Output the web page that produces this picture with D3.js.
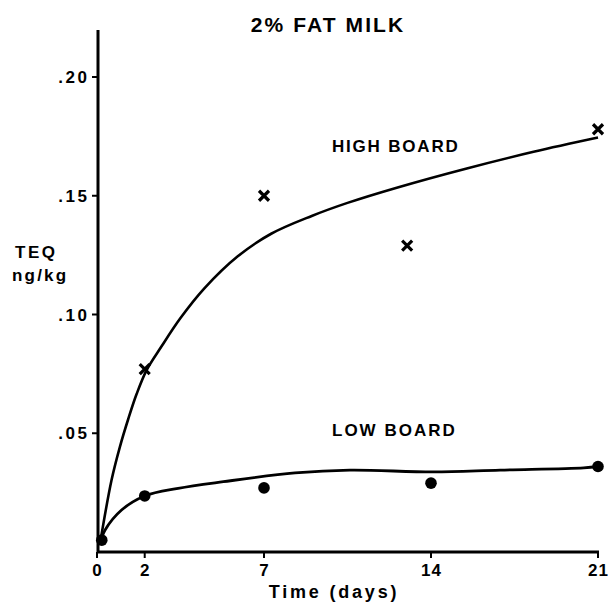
<!DOCTYPE html>
<html><head><meta charset="utf-8">
<script src="https://cdn.jsdelivr.net/npm/d3@7"></script>
<style>body{margin:0;background:#fff}svg{display:block}text{font-family:"Liberation Sans",Arial,Helvetica,sans-serif;font-weight:bold;fill:#000}</style>
</head><body><svg id="c" width="608" height="602"></svg>
<script>
const xTicks = [0, 2, 7, 14, 21];
const yTicks = [0.05, 0.10, 0.15, 0.20];
const yTickLabels = [".05", ".10", ".15", ".20"];
// measured points
const highDays = [2, 7, 13, 21];
const highVals = [0.077, 0.150, 0.129, 0.178];
const lowDays = [0.2, 2, 7, 14, 21];
const lowVals = [0.005, 0.0236, 0.027, 0.029, 0.036];
// fitted curves
const highCurveDays = [0.13, 0.61, 0.96, 1.31, 1.66, 2.08, 2.7, 3.5, 4.5, 5.9, 7.3, 9.0, 10.5, 12.6, 15.5, 18.3, 21];
const highCurveVals = [0.0038, 0.0303, 0.0443, 0.0560, 0.0665, 0.0766, 0.0865, 0.0985, 0.1110, 0.1245, 0.1340, 0.1415, 0.147, 0.1535, 0.1615, 0.1685, 0.1745];
const lowCurveDays = [0.13, 0.34, 1.03, 2.0, 3.4, 5.3, 8.3, 10.6, 14.1, 16.9, 20.4, 21];
const lowCurveVals = [0.004, 0.0093, 0.0177, 0.0236, 0.0268, 0.0296, 0.0333, 0.0345, 0.0337, 0.0345, 0.0354, 0.036];

const svg = d3.select("#c");
const x = d3.scaleLinear().domain([0, 21]).range([97, 598]);
const y = d3.scaleLinear().domain([0, 0.2]).range([552, 77]);

// title
svg.append("text").attr("x", 328).attr("y", 32).attr("text-anchor", "middle")
  .attr("font-size", 21).attr("letter-spacing", 2.1).text("2% FAT MILK");

// y axis
svg.append("line").attr("x1", 98).attr("x2", 98).attr("y1", y(0.2198)).attr("y2", y(0))
  .attr("stroke", "#000").attr("stroke-width", 3);
const yg = svg.append("g");
yTicks.forEach((t, i) => {
  yg.append("line").attr("x1", 92).attr("x2", 98).attr("y1", y(t)).attr("y2", y(t)).attr("stroke", "#000").attr("stroke-width", 2);
  yg.append("text").attr("x", 89.5).attr("y", y(t) + 6).attr("text-anchor", "end").attr("font-size", 17).attr("letter-spacing", 2.5).text(yTickLabels[i]);
});
// x axis
svg.append("line").attr("x1", 97).attr("x2", 599).attr("y1", y(0)).attr("y2", y(0))
  .attr("stroke", "#000").attr("stroke-width", 3);
xTicks.forEach(t => {
  svg.append("line").attr("x1", x(t)).attr("x2", x(t)).attr("y1", y(0)).attr("y2", y(0) + 6).attr("stroke", "#000").attr("stroke-width", 2);
  svg.append("text").attr("x", x(t) + 0.5).attr("y", 576).attr("text-anchor", "middle").attr("font-size", 17).attr("letter-spacing", 1).text(t);
});
svg.append("text").attr("x", 334).attr("y", 598).attr("text-anchor", "middle").attr("font-size", 18).attr("letter-spacing", 2.8).text("Time (days)");
svg.append("text").attr("x", 15).attr("y", 258).attr("font-size", 17).attr("letter-spacing", 2.5).text("TEQ");
svg.append("text").attr("x", 12).attr("y", 281).attr("font-size", 17).attr("letter-spacing", 2.2).text("ng/kg");

// curves
const line = d3.line().x(d => x(d[0])).y(d => y(d[1])).curve(d3.curveCatmullRom.alpha(0.5));
svg.append("path").attr("d", line(d3.zip(highCurveDays, highCurveVals)))
  .attr("fill", "none").attr("stroke", "#000").attr("stroke-width", 2.6);
svg.append("path").attr("d", line(d3.zip(lowCurveDays, lowCurveVals)))
  .attr("fill", "none").attr("stroke", "#000").attr("stroke-width", 2.8);

// markers
const s = 5;
d3.zip(highDays, highVals).forEach(([d, v]) => {
  const cx = x(d), cy = y(v);
  svg.append("path").attr("d", `M${cx - s},${cy - s}L${cx + s},${cy + s}M${cx - s},${cy + s}L${cx + s},${cy - s}`)
    .attr("stroke", "#000").attr("stroke-width", 3.2);
});
svg.selectAll("circle.low").data(d3.zip(lowDays, lowVals)).join("circle").attr("class", "low")
  .attr("cx", d => x(d[0])).attr("cy", d => y(d[1])).attr("r", 5.8).attr("fill", "#000");

svg.append("text").attr("x", 332).attr("y", 152).attr("font-size", 17).attr("letter-spacing", 1.8).text("HIGH BOARD");
svg.append("text").attr("x", 332).attr("y", 436).attr("font-size", 17).attr("letter-spacing", 2).text("LOW BOARD");
</script></body></html>
